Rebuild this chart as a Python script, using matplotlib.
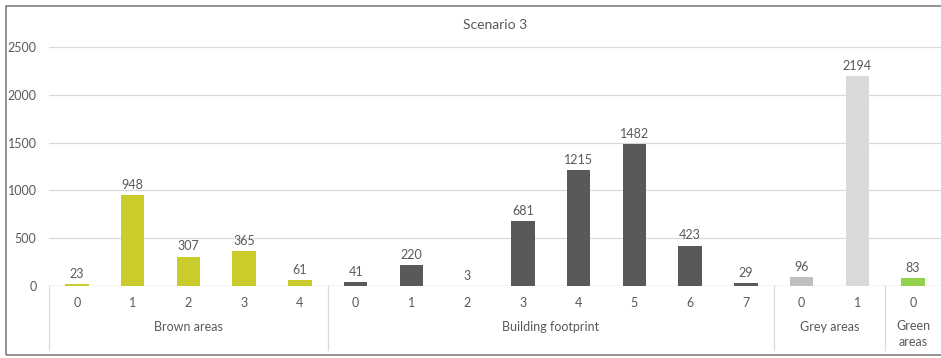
import numpy as np
import matplotlib.pyplot as plt
from matplotlib.patches import Rectangle
import matplotlib.transforms as mtransforms

plt.rcParams['font.family'] = ['Lato', 'DejaVu Sans']

# counts per class, grouped by area type
brown_vals = [23, 948, 307, 365, 61]
building_vals = [41, 220, 3, 681, 1215, 1482, 423, 29]
grey_vals = [96, 2194]
green_vals = [83]

group_names = ['Brown areas', 'Building footprint', 'Grey areas', 'Green\nareas']
group_vals = [brown_vals, building_vals, grey_vals, green_vals]
bar_colors = (['#CACC2B'] * 5
              + ['#595959', '#595959', '#E8A0A0', '#595959', '#595959', '#595959', '#595959', '#595959']
              + ['#BFBFBF', '#D9D9D9']
              + ['#92D050'])

txt = '#595959'
W, H = 941, 358
fig = plt.figure(figsize=(W / 100, H / 100), dpi=100)
ax = fig.add_axes([49 / W, (H - 286) / H, 892 / W, 239 / H])

values = [v for g in group_vals for v in g]
labels = [str(i) for g in group_vals for i in range(len(g))]
x = np.arange(len(values))

bars = ax.bar(x, values, width=0.42, color=bar_colors, zorder=3)
for b, v in zip(bars, values):
    ax.annotate(str(v), (b.get_x() + b.get_width() / 2, v), xytext=(0, 3),
                textcoords='offset points', ha='center', va='bottom',
                fontsize=9, color=txt)

ax.set_xlim(-0.5, len(values) - 0.5)
ax.set_ylim(0, 2500)
ax.set_yticks(np.arange(0, 2501, 500))
ax.tick_params(axis='y', length=0, labelsize=9, labelcolor=txt, pad=9)
ax.set_xticks([])
ax.yaxis.grid(True, color='#D9D9D9', lw=0.9, zorder=0)
for s in ax.spines.values():
    s.set_visible(False)
ax.axhline(0, color='#D9D9D9', lw=0.9, zorder=2)

# two-level category axis below the plot
tr = mtransforms.blended_transform_factory(ax.transData, ax.transAxes)
depth = 64 / 239
for xi, lab in zip(x, labels):
    ax.text(xi, -17 / 239, lab, transform=tr, ha='center', va='center',
            fontsize=9, color=txt)
start = 0
edges = [-0.5]
for name, g in zip(group_names, group_vals):
    mid = start + (len(g) - 1) / 2
    ax.text(mid, -41 / 239 if '\n' not in name else -48 / 239, name,
            transform=tr, ha='center', va='center', fontsize=9, color=txt,
            linespacing=1.3)
    start += len(g)
    edges.append(start - 0.5)
for e in edges[:-1]:
    ax.plot([e, e], [0, -depth], transform=tr, color='#D9D9D9', lw=0.9,
            clip_on=False)

ax.set_title('Scenario 3', fontsize=10, color=txt, pad=13)

# chart frame
fig.patches.append(Rectangle((6 / W, 3 / H), 1.0, 349 / H, transform=fig.transFigure,
                             fill=False, edgecolor='#7F7F7F', lw=1.2))

fig.savefig('out.png', dpi=100)
